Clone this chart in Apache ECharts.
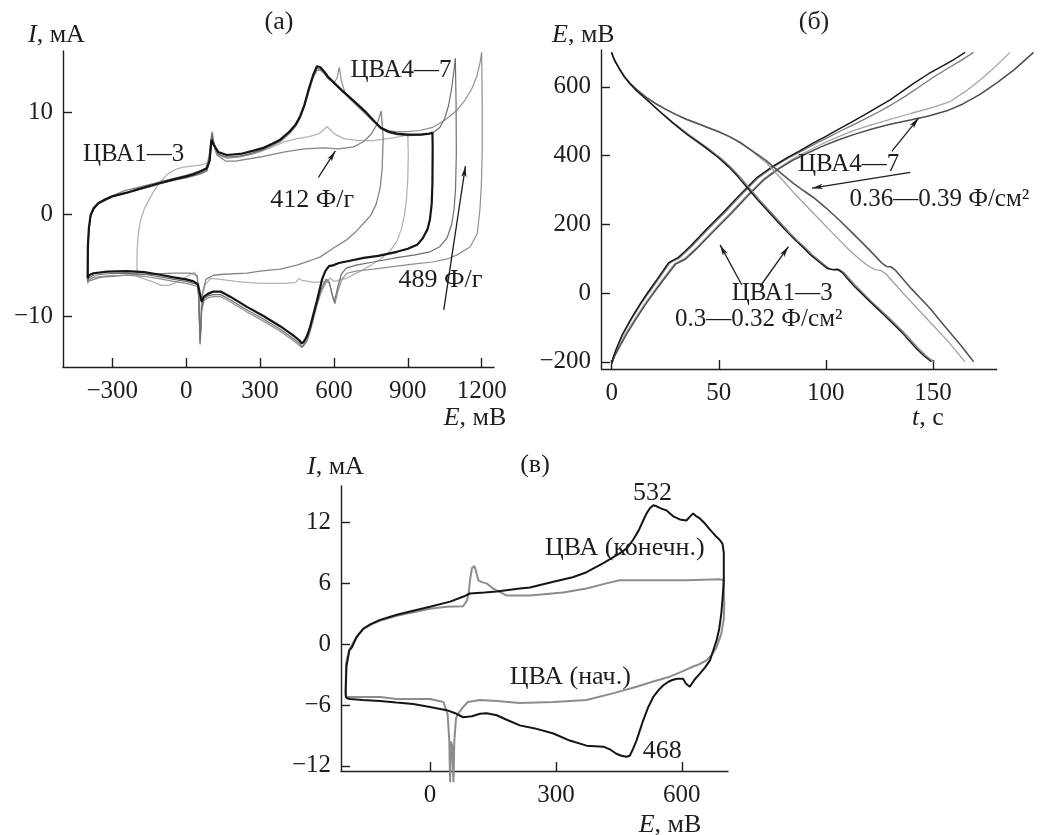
<!DOCTYPE html>
<html>
<head>
<meta charset="utf-8">
<script src="https://cdn.jsdelivr.net/npm/echarts@6/dist/echarts.min.js"></script>
<style>
  html, body { margin: 0; padding: 0; background: #fff; }
  #chart { width: 1046px; height: 835px; }
</style>
</head>
<body>
<div id="chart"></div>
<script>
// ---------- panel (а): CV curves, E (mV) vs I (mA) ----------
const aTicksX = [-300, 0, 300, 600, 900, 1200];
const aTicksY = [-10, 0, 10];

// window -200..900 mV
const cvA_900 = [[-200,-6.1],[-199,-3.5],[-194,-1.8],[-185,-0.6],[-170,0.5],[-153,1.3],[-135,2.1],[-119,2.7],[-100,3.3],[-80,3.8],[-65,4.1],[-40,4.4],[-11,4.6],[20,4.7],[57,4.8],[85,5.0],[95,5.9],[103,7.6],[108,7.2],[120,6.1],[150,5.6],[200,5.6],[250,5.8],[300,6.1],[350,6.6],[400,7.1],[450,7.4],[500,7.6],[540,7.9],[560,8.3],[572,8.6],[585,8.3],[600,7.9],[640,7.4],[700,7.2],[760,7.2],[820,7.4],[870,7.6],[900,7.8],
  [902,6.0],[900,3.5],[895,1.5],[887,0.0],[875,-1.4],[855,-2.7],[825,-3.7],[790,-4.4],[750,-5.0],[700,-5.7],[650,-6.3],[600,-6.6],[585,-6.3],[570,-6.6],[520,-6.7],[470,-6.5],[458,-6.3],[445,-6.7],[400,-6.8],[300,-6.8],[200,-6.6],[140,-6.4],[100,-6.3],[78,-6.9],[64,-8.2],[56,-12.6],[50,-8.0],[45,-6.3],[35,-5.7],[10,-6.0],[-30,-6.6],[-70,-7.0],[-100,-7.0],[-140,-6.6],[-200,-6.1]];

// window -400..800 mV (412 F/g)
const cvA_800 = [[-400,-6.6],[-399,-3.5],[-395,-1.5],[-388,-0.2],[-375,0.6],[-355,1.1],[-330,1.5],[-300,1.8],[-250,2.3],[-200,2.6],[-150,2.9],[-100,3.2],[-50,3.5],[0,3.8],[50,4.2],[80,4.5],[92,5.3],[104,8.0],[110,7.0],[125,5.8],[160,5.2],[200,5.2],[300,5.6],[400,6.1],[480,6.4],[560,6.5],[620,6.4],[680,6.6],[720,7.1],[750,7.8],[775,8.8],[792,10.1],
  [800,7.5],[796,4.5],[788,2.6],[772,1.0],[750,-0.1],[721,-0.9],[690,-1.7],[653,-2.5],[600,-3.3],[545,-4.2],[500,-4.6],[450,-5.0],[382,-5.4],[300,-5.6],[247,-5.8],[150,-5.9],[111,-6.0],[80,-6.4],[64,-8.0],[57,-12.8],[51,-7.5],[45,-6.0],[16,-5.8],[-50,-5.8],[-150,-5.9],[-250,-6.0],[-350,-6.2],[-400,-6.6]];

// window -400..1000 mV
const cvA_1000 = [[-400,-6.3],[-399,-3.2],[-395,-1.4],[-388,-0.1],[-375,0.6],[-356,1.1],[-322,1.5],[-300,1.75],[-241,2.1],[-200,2.4],[-150,2.75],[-106,3.05],[-50,3.4],[0,3.7],[30,3.9],[60,4.2],[84,4.5],[95,5.2],[103,7.3],[112,6.8],[130,6.1],[165,5.8],[220,5.9],[270,6.2],[314,6.5],[350,6.9],[382,7.3],[420,8.1],[445,8.8],[463,9.6],[480,10.7],[497,12.2],[515,13.6],[531,14.5],[545,14.4],[560,14.0],[575,13.5],[600,12.9],[630,12.2],[653,11.7],[690,10.9],[730,10.0],[760,9.2],[789,8.5],[820,8.1],[856,7.9],[900,7.8],[950,7.8],[990,7.9],[1000,8.0],
  [1001,6.5],[1000,3.0],[997,1.0],[990,-0.5],[980,-1.5],[960,-2.4],[938,-3.0],[900,-3.4],[856,-3.7],[780,-4.1],[721,-4.3],[660,-4.6],[620,-4.8],[600,-5.0],[580,-5.1],[565,-5.6],[552,-6.4],[545,-7.1],[530,-8.6],[518,-9.7],[503,-11.1],[490,-12.0],[478,-12.5],[470,-12.7],[460,-12.4],[440,-12.0],[423,-11.7],[382,-11.0],[314,-10.0],[247,-9.1],[179,-8.1],[140,-7.6],[111,-7.6],[90,-7.8],[72,-8.1],[63,-8.6],[56,-7.8],[48,-6.9],[30,-6.6],[0,-6.4],[-50,-6.2],[-106,-5.95],[-170,-5.7],[-241,-5.6],[-320,-5.65],[-377,-5.8],[-395,-6.0],[-400,-6.3]];

// window -400..1100 mV
const cvA_1100 = [[-400,-6.6],[-399,-3.3],[-395,-1.5],[-388,-0.2],[-375,0.5],[-356,1.0],[-322,1.45],[-300,1.7],[-241,2.1],[-200,2.4],[-150,2.7],[-106,3.0],[-50,3.35],[0,3.6],[30,3.8],[60,4.0],[84,4.3],[96,5.3],[105,7.9],[112,6.9],[130,5.9],[165,5.6],[220,5.7],[270,6.0],[314,6.35],[350,6.8],[382,7.2],[420,8.0],[445,8.7],[463,9.5],[480,10.6],[497,12.0],[515,13.5],[531,14.3],[545,14.2],[560,13.9],[575,13.4],[600,12.8],[630,12.1],[653,11.6],[690,10.8],[730,9.9],[760,9.1],[789,8.4],[820,8.0],[856,7.8],[900,7.7],[950,7.75],[1000,7.95],[1030,8.5],[1050,9.4],[1065,10.6],[1078,12.3],[1088,14.2],[1093,15.3],
  [1096,11.0],[1097,6.0],[1094,2.5],[1088,0.5],[1078,-1.0],[1060,-2.3],[1030,-3.2],[990,-3.7],[930,-4.0],[850,-4.3],[760,-4.7],[690,-5.0],[650,-5.3],[630,-5.9],[615,-7.2],[602,-8.6],[592,-7.8],[580,-6.6],[568,-6.4],[555,-7.0],[545,-7.6],[530,-8.9],[518,-10.0],[503,-11.4],[490,-12.3],[478,-12.8],[470,-13.0],[460,-12.7],[440,-12.3],[423,-12.0],[382,-11.3],[314,-10.3],[247,-9.4],[179,-8.4],[140,-7.9],[111,-7.9],[90,-8.0],[72,-8.3],[63,-9.2],[57,-12.5],[51,-7.8],[45,-6.9],[30,-6.8],[0,-6.6],[-50,-6.4],[-106,-6.15],[-170,-5.9],[-241,-5.8],[-320,-5.85],[-377,-6.0],[-395,-6.3],[-400,-6.6]];

// window -400..1200 mV (489 F/g)
const cvA_1200 = [[-400,-6.8],[-399,-3.4],[-395,-1.6],[-388,-0.3],[-375,0.5],[-356,1.0],[-322,1.4],[-300,1.65],[-241,2.05],[-200,2.35],[-150,2.65],[-106,2.95],[-50,3.3],[0,3.55],[30,3.75],[60,3.95],[84,4.2],[97,5.4],[106,8.1],[113,7.0],[130,5.8],[165,5.5],[220,5.6],[270,5.9],[314,6.3],[350,6.7],[382,7.1],[420,7.9],[445,8.6],[463,9.4],[480,10.5],[497,11.9],[515,13.3],[531,14.1],[545,14.1],[560,13.8],[575,13.3],[600,12.9],[612,13.3],[622,14.4],[630,13.1],[645,11.9],[660,11.4],[690,10.7],[730,9.8],[760,9.1],[789,8.5],[820,8.2],[856,8.1],[900,8.1],[950,8.2],[1000,8.5],[1050,9.2],[1100,10.2],[1130,11.1],[1160,12.3],[1180,13.5],[1193,14.8],[1200,15.9],
  [1202,11.0],[1202,6.0],[1199,3.0],[1193,0.5],[1182,-1.9],[1154,-3.2],[1100,-4.0],[1060,-4.4],[1000,-4.7],[920,-4.9],[856,-5.1],[760,-5.4],[690,-5.6],[653,-5.8],[632,-6.4],[616,-7.6],[604,-8.8],[594,-8.0],[582,-6.8],[570,-6.6],[555,-7.3],[545,-7.9],[530,-9.1],[518,-10.2],[503,-11.6],[490,-12.5],[478,-12.9],[470,-13.1],[460,-12.9],[440,-12.5],[423,-12.2],[382,-11.5],[314,-10.5],[247,-9.6],[179,-8.6],[140,-8.1],[111,-8.1],[90,-8.2],[72,-8.5],[63,-9.6],[57,-12.7],[51,-8.0],[45,-7.1],[30,-7.0],[0,-6.8],[-50,-6.6],[-106,-6.35],[-170,-6.1],[-241,-6.0],[-320,-6.05],[-377,-6.2],[-395,-6.5],[-400,-6.8]];

// ---------- panel (б): galvanostatic charge / discharge, t (s) vs E (mV) ----------
const bTicksX = [0, 50, 100, 150];
const bTicksY = [-200, 0, 200, 400, 600];

const chargeBlack13 = [[0,-205],[0.8,-185],[2.3,-160],[5,-120],[9,-75],[13.2,-32],[17,3],[21,38],[24,65],[26.5,88],[28.5,95],[31,103],[34,120],[37,138],[44,184],[52,234],[60,287],[67.8,336],[75,368],[82,394],[88,414],[94,436],[100,456],[106,477],[112,497],[118,518],[124,540],[130,562],[136,588],[141,610],[148,638],[155,662],[160,680],[165,700]];
const chargeGray13 = [[0,-205],[1,-183],[2.6,-158],[5.5,-118],[9.5,-74],[13.8,-31],[17.6,3],[21.6,38],[24.6,65],[27,87],[29,94],[31.6,102],[34.6,119],[37.6,137],[44.6,183],[52.6,233],[60.6,286],[68.4,335],[75.6,367],[82.6,393],[88.6,413],[95,434],[101,453],[107,472],[113,490],[119,509],[125,528],[131,549],[137,572],[143,597],[150,627],[157,654],[163,676],[169,700]];
const chargeLight47 = [[0,-205],[1.3,-182],[3.2,-158],[6.3,-120],[10.5,-78],[15,-35],[19,0],[23,34],[26.5,62],[29.5,86],[31.5,92],[34,100],[37,117],[40,135],[47,180],[55,230],[63,283],[70.5,330],[77.5,362],[84,388],[90,408],[97,430],[104,450],[112,470],[120,487],[130,505],[140,523],[150,540],[158,557],[166,590],[172,620],[178,652],[186,700]];
const chargeDark47 = [[0,-205],[1.5,-182],[3.5,-158],[6.8,-121],[11,-79],[15.5,-36],[19.5,-1],[23.5,33],[27,61],[30,85],[32,91],[34.5,99],[37.5,116],[40.5,134],[47.5,179],[55.5,229],[63.5,282],[71,329],[78,361],[84.5,386],[91,406],[98,426],[106,446],[114,463],[122,478],[130,491],[140,504],[148,515],[156.5,530],[164,550],[172,578],[180,612],[188,650],[197,700]];

const dischBlack13 = [[0,700],[0.6,688],[1.6,674],[3.9,649],[6,628],[8.6,608],[12,586],[16.4,562],[22,530],[28.5,495],[35,462],[43.8,423],[50,393],[54.6,367],[59,338],[63.5,305],[68,272],[73,238],[78,204],[82.3,175],[86,152],[89.5,132],[93,110],[97.3,88],[100.5,72],[103,68],[105.5,69],[107.5,60],[112.9,22],[120,-22],[128.5,-72],[136,-118],[142,-160],[146,-184],[149.3,-200]];
const dischGray13 = [[0,700],[0.6,688],[1.6,674],[3.9,649],[6,628],[8.6,608],[12,586],[16.4,562],[22,531],[28.5,497],[35.5,463],[44.5,423],[51,392],[55.6,366],[60,337],[64.5,304],[69,271],[74,237],[79,203],[83.3,174],[87,151],[90.5,131],[94,109],[98.3,87],[101.5,71],[104,67],[106.5,68],[108.5,59],[114,21],[121,-23],[129.5,-72],[137,-118],[143,-160],[147,-184],[150.5,-200]];
const dischDark47 = [[0,700],[0.6,688],[1.6,674],[3.9,649],[6,629],[8.6,610],[12,590],[16.4,568],[20,553],[25,535],[30,519],[35,505],[40,493],[45,481],[50,469],[55,455],[60,438],[66,412],[72,386],[78.7,350],[85,318],[90,296],[94.2,278],[100,248],[106,214],[112,177],[118,140],[123,108],[126,88],[128.5,77],[130.5,76],[132.5,66],[140,12],[148.7,-45],[156,-100],[163,-152],[169,-200]];
const dischLight47 = [[0,700],[0.6,688],[1.6,674],[3.9,649],[6,629],[8.6,610],[12,590],[16.4,568],[20,553],[25,536],[30,520],[35,506],[40,494],[45,482],[50,469],[55,455],[60,437],[66,410],[72,380],[78.7,336],[86,285],[94.2,232],[101,188],[109.8,132],[116,97],[120,78],[123,68],[125.5,66],[128,56],[136,0],[148.7,-85],[157,-140],[164,-193],[165,-200]];

// ---------- panel (в): initial vs final CV, E (mV) vs I (mA) ----------
const cTicksX = [0, 300, 600];
const cTicksY = [-12, -6, 0, 6, 12];

const cvFinal = [[-200,-5.3],[-201,-4.9],[-199,-2.2],[-196,-1.5],[-192,-0.6],[-186,-0.3],[-175,0.7],[-159,1.55],[-140,2.0],[-119,2.4],[-79,2.9],[-40,3.3],[0,3.7],[48,4.2],[80,4.7],[95,5.0],[130,5.1],[159,5.2],[214,5.5],[238,5.6],[294,6.15],[340,6.6],[373,7.1],[413,8.0],[452,8.95],[470,9.5],[484,10.3],[497,11.2],[508,12.2],[516,12.9],[524,13.4],[532,13.7],[540,13.6],[550,13.4],[563,13.2],[580,12.6],[595,12.3],[611,12.2],[620,12.6],[627,12.9],[635,12.6],[643,12.4],[655,11.9],[667,11.3],[680,10.7],[690,10.3],[697,9.9],[700,9.0],
  [700,6.3],[697,4.5],[694,3.0],[689,1.5],[683,0.4],[675,-0.6],[667,-1.6],[655,-2.3],[643,-2.9],[630,-3.5],[619,-4.2],[610,-3.9],[603,-3.4],[590,-3.4],[579,-3.5],[568,-3.7],[556,-4.05],[545,-4.5],[532,-5.2],[520,-6.2],[508,-7.5],[500,-8.5],[492,-9.5],[484,-10.3],[476,-11.0],[468,-11.1],[456,-11.0],[444,-10.8],[430,-10.4],[413,-10.1],[373,-10.0],[333,-9.5],[294,-8.8],[250,-8.3],[214,-8.0],[180,-7.4],[159,-7.0],[135,-6.8],[119,-6.85],[100,-7.1],[79,-7.2],[60,-6.8],[40,-6.5],[0,-6.2],[-40,-5.9],[-80,-5.75],[-119,-5.6],[-160,-5.5],[-190,-5.4],[-200,-5.3]];

const cvInitial = [[-200,-5.2],[-201,-4.5],[-200,-2.0],[-197,-1.3],[-192,-0.5],[-185,0.0],[-175,0.7],[-159,1.45],[-140,1.95],[-119,2.3],[-79,2.8],[-40,3.15],[0,3.5],[40,3.7],[79,3.75],[88,4.3],[92,5.0],[96,6.5],[100,7.5],[106,7.7],[111,7.0],[115,6.3],[125,6.1],[135,6.0],[150,5.5],[159,5.3],[183,4.8],[238,4.8],[317,5.1],[373,5.5],[420,6.0],[452,6.3],[532,6.3],[611,6.3],[690,6.4],[700,6.3],
  [701,4.0],[700,2.5],[694,1.05],[683,-0.3],[672,-1.0],[659,-1.6],[640,-2.0],[627,-2.2],[600,-2.7],[571,-3.2],[530,-3.7],[492,-4.2],[440,-4.8],[373,-5.5],[294,-5.7],[214,-5.8],[160,-5.6],[119,-5.5],[90,-5.7],[79,-6.2],[67,-6.85],[62,-7.3],[58,-9.5],[56,-13.6],[53,-10.0],[50,-9.6],[48,-13.6],[46,-9.5],[42,-6.9],[32,-5.7],[0,-5.4],[-79,-5.4],[-119,-5.2],[-190,-5.2],[-200,-5.2]];

// ---------- styling / layout ----------
const INK = '#1e1e1e';
const FONT = '"Liberation Serif", "DejaVu Serif", serif';
const FS = 25;      // tick labels
const FS_NOTE = 26; // notes and axis titles
const FS_DASH = 25; // notes that carry a long dash
const minus = v => String(v).replace('-', '\u2212');

// the time axis of panel (б) ends at 180 s, the traces run on past it
const B_AXIS_END = 180;

function xAxisOf(gi, min, max, ticks, showLine) {
  return {
    gridIndex: gi, type: 'value', min, max,
    axisLine: { show: showLine !== false, onZero: false, lineStyle: { color: INK, width: 1.4 } },
    axisTick: { show: true, inside: true, length: 9, customValues: ticks, lineStyle: { color: INK, width: 1.4 } },
    axisLabel: { customValues: ticks, margin: 12, fontFamily: FONT, fontSize: FS, color: INK, formatter: minus },
    splitLine: { show: false }
  };
}
function yAxisOf(gi, min, max, ticks) {
  return {
    gridIndex: gi, type: 'value', min, max,
    axisLine: { show: true, onZero: false, lineStyle: { color: INK, width: 1.4 } },
    axisTick: { show: true, inside: true, length: 9, customValues: ticks, lineStyle: { color: INK, width: 1.4 } },
    axisLabel: { customValues: ticks, margin: 10, fontFamily: FONT, fontSize: FS, color: INK, formatter: minus },
    splitLine: { show: false }
  };
}
function curve(gi, data, color, width, extra) {
  return Object.assign({
    type: 'line', xAxisIndex: gi, yAxisIndex: gi, data,
    showSymbol: false, symbol: 'none', clip: false, silent: true,
    lineStyle: { color, width }, emphasis: { disabled: true }
  }, extra || {});
}
function arrows(list) {
  return {
    silent: true, symbol: ['none', 'arrow'], symbolSize: [4, 11],
    label: { show: false }, emphasis: { disabled: true },
    lineStyle: { color: INK, width: 1.3, type: 'solid' },
    data: list.map(a => [{ coord: [a[0], a[1]] }, { coord: [a[2], a[3]] }])
  };
}

// annotation arrows: [fromX, fromY, toX, toY] in axis units
const aArrows = [[537, 3.6, 606, 6.2], [1046, -9.4, 1134, 4.7]];
const bArrows = [[60.7, 24, 50.6, 140], [69.3, 19, 82.5, 135], [130.8, 412, 143.3, 509], [139.4, 351, 93.5, 305]];

const chart = echarts.init(document.getElementById('chart'), null, { renderer: 'canvas' });

// panel (б) scale: 2.14 px per second from -5 s; plotting room extends to 200 s
const bMin = -5, bMax = 200, bPxPerS = 2.14;

chart.setOption({
  animation: false,
  backgroundColor: '#ffffff',
  grid: [
    { left: 63, top: 51, width: 431, height: 316 },
    { left: 601, top: 50, width: Math.round((bMax - bMin) * bPxPerS), height: 319 },
    { left: 341, top: 486, width: 387, height: 285 }
  ],
  xAxis: [
    xAxisOf(0, -500, 1250, aTicksX),
    xAxisOf(1, bMin, bMax, bTicksX, false),
    xAxisOf(2, -212, 710, cTicksX)
  ],
  yAxis: [
    yAxisOf(0, -15, 16, aTicksY),
    yAxisOf(1, -221, 707, bTicksY),
    yAxisOf(2, -12.5, 15.6, cTicksY)
  ],
  series: [
    curve(0, cvA_900, '#b3b3b3', 1.3, { markLine: arrows(aArrows) }),
    curve(0, cvA_800, '#858585', 1.3),
    curve(0, cvA_1200, '#8f8f8f', 1.2),
    curve(0, cvA_1100, '#6e6e6e', 1.2),
    curve(0, cvA_1000, '#141414', 2.2),

    curve(1, chargeLight47, '#a6a6a6', 1.3, { markLine: arrows(bArrows) }),
    curve(1, chargeDark47, '#4d4d4d', 1.5),
    curve(1, chargeGray13, '#7a7a7a', 1.3),
    curve(1, chargeBlack13, '#141414', 1.4),
    curve(1, dischLight47, '#a0a0a0', 1.3),
    curve(1, dischDark47, '#555555', 1.6),
    curve(1, dischGray13, '#7a7a7a', 1.3),
    curve(1, dischBlack13, '#141414', 1.4),

    curve(2, cvInitial, '#8c8c8c', 2.0),
    curve(2, cvFinal, '#151515', 2.0)
  ]
});

function px(gi, x, y) { return chart.convertToPixel({ xAxisIndex: gi, yAxisIndex: gi }, [x, y]); }
function txt(x, y, text, align, size) {
  const fs = size || FS_NOTE;
  return {
    type: 'text', x, y, silent: true, z: 10,
    style: {
      text, fill: INK, fontFamily: FONT, fontSize: fs,
      align: align || 'left', verticalAlign: 'middle',
      textAlign: align || 'left', textVerticalAlign: 'middle',
      rich: { i: { fontStyle: 'italic', fontFamily: FONT, fontSize: fs, fill: INK } }
    }
  };
}
function dataTxt(gi, x, y, text, align, size) {
  const p = px(gi, x, y);
  return txt(p[0], p[1], text, align, size);
}

// x-axis baseline of panel (б), drawn only up to its last value
const bA = px(1, bMin, -221), bB = px(1, B_AXIS_END, -221);
const bY = Math.round(bA[1]) + 0.5;

chart.setOption({
  graphic: [
    { type: 'line', silent: true, z: 5,
      shape: { x1: bA[0], y1: bY, x2: bB[0], y2: bY },
      style: { stroke: INK, lineWidth: 1.4 } },
    // panel letters
    txt(279, 22, '(а)', 'center'),
    txt(814, 22, '(б)', 'center'),
    txt(535, 465, '(в)', 'center'),
    // axis titles
    txt(28, 35, '{i|I}, мА', 'left'),
    txt(475, 418, '{i|E}, мВ', 'center'),
    txt(552, 35, '{i|E}, мВ', 'left'),
    txt(928, 418, '{i|t}, с', 'center'),
    txt(307, 467, '{i|I}, мА', 'left'),
    txt(670, 825, '{i|E}, мВ', 'center'),
    // panel (а) notes
    dataTxt(0, -419, 5.9, 'ЦВА1—3', 'left', FS_DASH),
    dataTxt(0, 667, 14.1, 'ЦВА4—7', 'left', FS_DASH),
    dataTxt(0, 341, 1.4, '412 Ф/г'),
    dataTxt(0, 862, -6.5, '489 Ф/г'),
    // panel (б) notes
    dataTxt(1, 87, 373, 'ЦВА4—7', 'left', FS_DASH),
    dataTxt(1, 111, 271, '0.36—0.39 Ф/см²', 'left', FS_DASH),
    dataTxt(1, 56, 0, 'ЦВА1—3', 'left', FS_DASH),
    dataTxt(1, 29.6, -78, '0.3—0.32 Ф/см²', 'left', FS_DASH),
    // panel (в) notes
    dataTxt(2, 530, 14.9, '532', 'center'),
    dataTxt(2, 507, -10.5, '468'),
    dataTxt(2, 274, 9.45, 'ЦВА (конечн.)'),
    dataTxt(2, 190, -3.2, 'ЦВА (нач.)')
  ]
});
</script>
</body>
</html>
